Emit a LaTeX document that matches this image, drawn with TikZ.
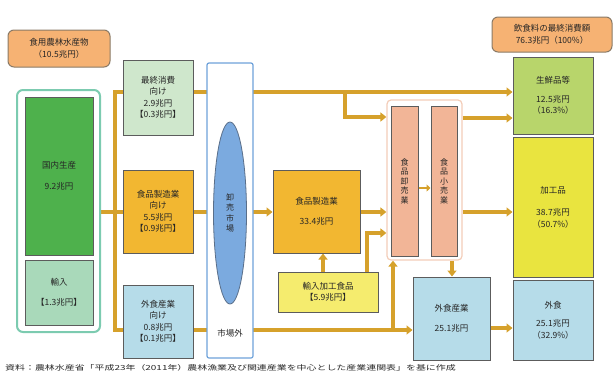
\documentclass[tikz,border=0pt]{standalone}
\usepackage{fontspec}
\setmainfont{Noto Sans CJK JP}
\usetikzlibrary{arrows.meta,backgrounds,shapes.geometric}
\definecolor{gold}{HTML}{D6A12B}
\definecolor{bord}{HTML}{5C5C5C}
\definecolor{txt}{HTML}{262626}
\definecolor{orng}{HTML}{F6B273}
\definecolor{obord}{HTML}{8A7A66}
\definecolor{tealb}{HTML}{7CCBB0}
\definecolor{dgreen}{HTML}{4EB14C}
\definecolor{igreen}{HTML}{A9D9BA}
\definecolor{pgreen}{HTML}{CFE7CC}
\definecolor{mgold}{HTML}{F2B731}
\definecolor{lblue}{HTML}{B6DCE9}
\definecolor{colb}{HTML}{6EA2DA}
\definecolor{ellf}{HTML}{7BAADF}
\definecolor{ellb}{HTML}{5A6F8A}
\definecolor{lyel}{HTML}{F5EC6E}
\definecolor{pinkb}{HTML}{F3CDB9}
\definecolor{salm}{HTML}{F2B597}
\definecolor{fgreen}{HTML}{B8D56B}
\definecolor{pyel}{HTML}{E9E43F}
\newcommand{\mysz}{\fontsize{8.5}{11.5}\selectfont}
\newcommand{\myvt}{\fontsize{8}{9.5}\selectfont}
\begin{document}
\begin{tikzpicture}[x=1pt,y=-1pt,
  box/.style={draw=bord, line width=1pt, align=center, inner sep=1pt, text=txt, font=\mysz},
  obox/.style={box, fill=orng, draw=obord, rounded corners=6pt},
  vbox/.style={box, fill=salm, font=\myvt},
  flow/.style={draw=gold, line width=3.5pt, -{Triangle[length=6pt,width=9pt]}},
  plain/.style={draw=gold, line width=3.5pt}]
\useasboundingbox (0,0) rectangle (616,376);

% left block
\node[obox, minimum width=102pt, minimum height=37pt] (src) at (59,48.5) {食用農林水産物\\（10.5兆円）};
\node[draw=tealb, fill=white, rounded corners=6pt, line width=2pt, minimum width=83pt, minimum height=242pt] (outer) at (58.5,211) {};
\node[box, fill=dgreen, minimum width=68pt, minimum height=158pt] (dom) at (59,176) {国内生産\\[9pt]9.2兆円};
\node[box, fill=igreen, minimum width=68pt, minimum height=65pt] (imp) at (59,292.5) {輸入\\[9pt]【1.3兆円】};

% small boxes
\node[box, fill=pgreen, minimum width=70pt, minimum height=75pt] (b1) at (158,97.5) {最終消費\\向け\\2.9兆円\\【0.3兆円】};
\node[box, fill=mgold, minimum width=70pt, minimum height=83pt] (b2) at (158,211.5) {食品製造業\\向け\\5.5兆円\\【0.9兆円】};
\node[box, fill=lblue, minimum width=70pt, minimum height=73pt] (b3) at (158,321.5) {外食産業\\向け\\0.8兆円\\【0.1兆円】};

% market column
\node[draw=colb, fill=white, rounded corners=2pt, line width=1.2pt, minimum width=46pt, minimum height=295pt] (col) at (230,210.5) {};
\node[ellipse, draw=ellb, fill=ellf, line width=0.8pt, minimum width=33pt, minimum height=182pt, inner sep=0pt, align=center, text=txt, font=\fontsize{8}{10.5}\selectfont] (ell) at (230,213) {卸\\売\\市\\場};
\node[text=txt, font=\mysz] (mkt) at (230,333) {市場外};

% manufacturing
\node[box, fill=mgold, minimum width=87pt, minimum height=83pt] (mfg) at (316.5,211.5) {食品製造業\\[9pt]33.4兆円};
\node[box, fill=lyel, minimum width=100pt, minimum height=40pt] (impf) at (328,292) {輸入加工食品\\【5.9兆円】};

% wholesale / retail
\node[draw=pinkb, fill=white, rounded corners=4pt, line width=1.2pt, minimum width=75pt, minimum height=160pt] (cont) at (424.5,180) {};
\node[vbox, minimum width=27pt, minimum height=150pt] (wh) at (404.5,181) {食\\品\\卸\\売\\業};
\node[vbox, minimum width=26pt, minimum height=150pt] (rt) at (444,181) {食\\品\\小\\売\\業};
\node[box, fill=lblue, minimum width=77pt, minimum height=83pt] (food) at (451.5,318.5) {外食産業\\[9pt]25.1兆円};

% final consumption
\node[obox, minimum width=120pt, minimum height=35pt] (fin) at (552,34.5) {飲食料の最終消費額\\76.3兆円（100\%）};
\node[box, fill=fgreen, minimum width=80pt, minimum height=77pt] (fresh) at (553,95.5) {生鮮品等\\[7pt]12.5兆円\\（16.3\%）};
\node[box, fill=pyel, minimum width=80pt, minimum height=140pt] (proc) at (553,207) {加工品\\[11pt]38.7兆円\\（50.7\%）};
\node[box, fill=lblue, minimum width=80pt, minimum height=80pt] (out) at (553,320) {外食\\[7pt]25.1兆円\\（32.9\%）};

% footer
\node[anchor=west, text=txt, inner sep=0pt, font=\fontsize{7}{8}\selectfont] (note) at (5,368) {\scalebox{1.42}[1]{資料：農林水産省「平成23年（2011年）農林漁業及び関連産業を中心とした産業連関表」を基に作成}};

% connectors
\coordinate (r1) at (0,92);
\coordinate (r2) at (0,212);
\coordinate (r3) at (0,330);
\coordinate (tTop) at (115,92);
\coordinate (tBot) at (115,330);
\coordinate (br1) at (345,92);
\coordinate (br1b) at (345,117);
\coordinate (br2) at (393,330);
\coordinate (xa) at (323,0);
\coordinate (xb) at (367,0);
\coordinate (xbc) at (367,233);
\coordinate (xc) at (452,0);
\coordinate (ra) at (0,118);
\coordinate (rb) at (0,328);
\coordinate (rm) at (0,188);

\begin{scope}[on background layer]
\draw[plain, line join=miter] (b1.west |- r1) -- (tTop) -- (tBot) -- (b3.west |- r3);
\draw[plain] (outer.east |- r2) -- (b2.west |- r2);
\draw[flow] (b1.east |- r1) -- (fresh.west |- r1);
\draw[flow] (b2.east |- r2) -- (mfg.west |- r2);
\draw[flow] (b3.east |- r3) -- (food.west |- r3);
\draw[flow] (br1) -- (br1b) -- (cont.west |- br1b);
\draw[flow] (br2) -- (cont.south -| br2);
\draw[flow] (mfg.east |- r2) -- (cont.west |- r2);
\draw[flow] (impf.north -| xa) -- (mfg.south -| xa);
\draw[flow] (impf.north -| xb) -- (xbc) -- (cont.west |- xbc);
\draw[flow] (cont.east |- ra) -- (fresh.west |- ra);
\draw[flow] (cont.east |- r2) -- (proc.west |- r2);
\draw[flow] (cont.south -| xc) -- (food.north -| xc);
\draw[flow] (food.east |- rb) -- (out.west |- rb);
\end{scope}
\draw[draw=gold, line width=2.5pt, -{Triangle[length=4pt,width=7pt]}] (wh.east |- rm) -- (rt.west |- rm);
\end{tikzpicture}
\end{document}
